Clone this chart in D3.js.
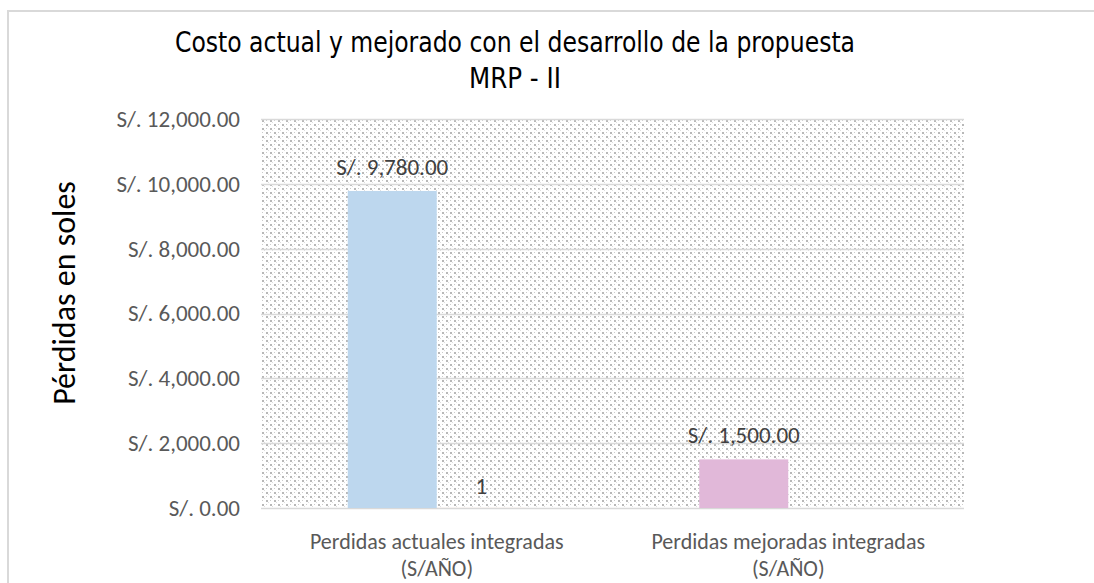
<!DOCTYPE html>
<html>
<head>
<meta charset="utf-8">
<title>Costo actual y mejorado</title>
<script src="https://cdn.jsdelivr.net/npm/d3@7"></script>
<style>
    body { margin: 0; background: white; }
    svg { display: block; }
</style>
</head>
<body>
<svg id="chart" width="1094" height="583"></svg>
<script>
    // data
    var categories = ["Perdidas actuales integradas|(S/AÑO)", "Perdidas mejoradas integradas|(S/AÑO)"]
    var seriesNames = ["costo", "serie2"]
    var costo = [9780, 1500]
    var serie2 = [1, null]
    var yTicks = [0, 2000, 4000, 6000, 8000, 10000, 12000]
    var barColours = ["#bdd7ee", "#e1b8d9"]

    var svg = d3.select("#chart")
    var plot = {left: 261, right: 964, top: 119, bottom: 508}
    var bodyFont = "Carlito, Lato, 'Open Sans', sans-serif"

    // dotted fill of the plot area
    var defs = svg.append("defs")
    var pat = defs.append("pattern")
        .attr("id", "dots")
        .attr("patternUnits", "userSpaceOnUse")
        .attr("x", plot.left).attr("y", plot.top)
        .attr("width", 8).attr("height", 8)
    pat.append("rect").attr("width", 8).attr("height", 8).attr("fill", "white")
    var dots = [[1,1,2,"#b8b8b8"],[5,5,2,"#b8b8b8"],[5,1,1,"#cccccc"],[1,5,1,"#cccccc"],[3,3,1,"#dedede"],[7,7,1,"#dedede"]]
    dots.forEach(function(d) {
        pat.append("rect").attr("x", d[0]).attr("y", d[1]).attr("width", d[2]).attr("height", d[2]).attr("fill", d[3])
    })

    // outer chart border (top and left only are visible)
    svg.append("path")
        .attr("d", "M8,583 V11 H1094")
        .attr("fill", "none").attr("stroke", "#d9d9d9").attr("stroke-width", 2)

    var y = d3.scaleLinear().domain([0, 12000]).range([plot.bottom, plot.top])
    var x0 = d3.scaleBand().domain(categories).range([plot.left, plot.right])
        .paddingInner(0.4936).paddingOuter(0.2468)
    var x1 = d3.scaleBand().domain(seriesNames).range([0, x0.bandwidth()])

    svg.append("rect")
        .attr("x", plot.left).attr("y", plot.top)
        .attr("width", plot.right - plot.left).attr("height", plot.bottom - plot.top)
        .attr("fill", "url(#dots)")

    // gridlines
    svg.append("g").selectAll("line")
        .data(yTicks).enter().append("line")
        .attr("x1", plot.left).attr("x2", plot.right)
        .attr("y1", d => Math.round(y(d)) + 0.5).attr("y2", d => Math.round(y(d)) + 0.5)
        .attr("stroke", "#d9d9d9").attr("stroke-width", 1.5)

    // y axis labels
    var fmt = d3.format(",.2f")
    var yAxis = d3.axisLeft(y).tickValues(yTicks).tickSize(0).tickPadding(21)
        .tickFormat(d => "S/. " + fmt(d))
    var gy = svg.append("g").attr("transform", "translate(" + plot.left + ",0)").call(yAxis)
    gy.select(".domain").remove()
    gy.selectAll("text")
        .style("font-family", bodyFont)
        .style("font-size", "23px")
        .attr("fill", "#595959")

    // bars
    var rows = categories.map((c, i) => ({cat: i, vals: [costo[i], serie2[i]]}))
    rows.forEach(function(r) {
        r.vals.forEach(function(v, s) {
            if (v == null) return
            var bx = x0(categories[r.cat]) + x1(seriesNames[s])
            svg.append("rect")
                .attr("x", bx).attr("y", y(v))
                .attr("width", x1.bandwidth()).attr("height", y(0) - y(v))
                .attr("fill", s == 0 ? barColours[r.cat] : "#ed7d31")
            svg.append("text")
                .attr("x", bx + x1.bandwidth() / 2)
                .attr("y", y(v) - (s == 0 ? 16 : 14))
                .attr("text-anchor", "middle")
                .style("font-family", bodyFont)
                .style("font-size", "23px")
                .attr("fill", "#404040")
                .text(s == 0 ? "S/. " + fmt(v) : d3.format("d")(v))
        })
    })

    // category labels (two lines each)
    categories.forEach(function(c) {
        c.split("|").forEach(function(line, i) {
            svg.append("text")
                .attr("x", x0(c) + x0.bandwidth() / 2)
                .attr("y", 549 + i * 27)
                .attr("text-anchor", "middle")
                .style("font-family", bodyFont)
                .style("font-size", "22px")
                .attr("fill", "#595959")
                .text(line)
        })
    })

    // y axis title
    svg.append("text")
        .attr("transform", "translate(75,293) rotate(-90)")
        .attr("text-anchor", "middle")
        .style("font-family", bodyFont)
        .style("font-size", "32px")
        .attr("fill", "black")
        .text("Pérdidas en soles")

    // title
    var titleLines = ["Costo  actual  y  mejorado  con  el  desarrollo  de  la  propuesta", "MRP  -  II"]
    var titleWidths = [680, 92]
    titleLines.forEach(function(line, i) {
        svg.append("text")
            .attr("x", 515).attr("y", 52 + i * 36)
            .attr("text-anchor", "middle")
            .attr("textLength", titleWidths[i])
            .attr("lengthAdjust", "spacingAndGlyphs")
            .style("font-family", "'DejaVu Sans Condensed', 'Liberation Sans Narrow', sans-serif")
            .style("font-stretch", "condensed")
            .style("font-size", "29px")
            .attr("fill", "black")
            .text(line)
    })
</script>
</body>
</html>
